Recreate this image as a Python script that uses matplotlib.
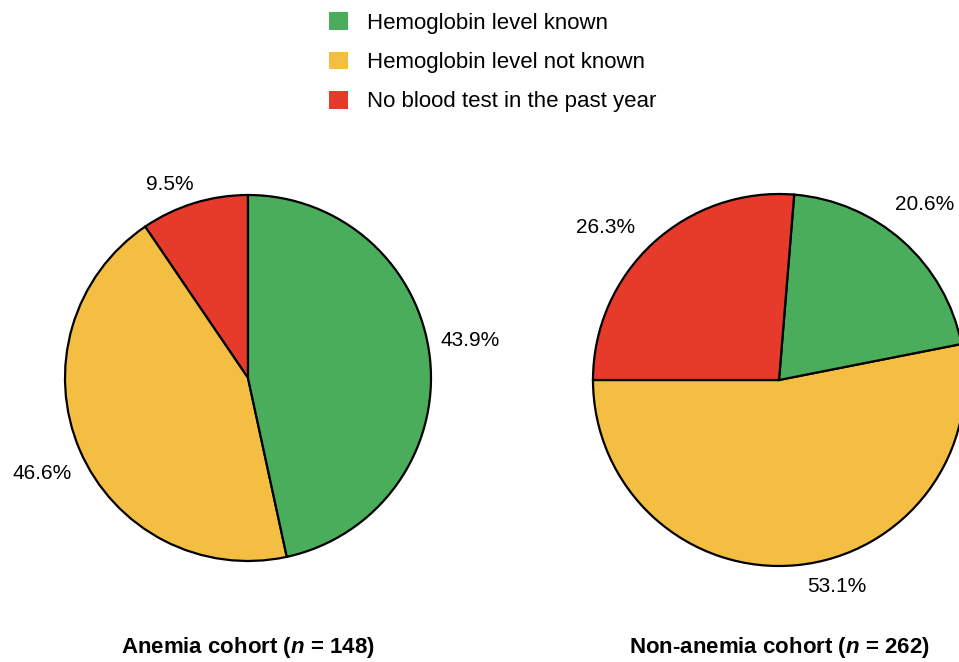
"""Two pie charts: blood test status in anemia vs non-anemia cohorts."""
import matplotlib

matplotlib.use("Agg")
import matplotlib.pyplot as plt
import numpy as np
from matplotlib.patches import Patch

plt.rcParams["font.family"] = ["Liberation Sans", "DejaVu Sans"]
plt.rcParams["mathtext.fontset"] = "custom"
plt.rcParams["mathtext.bfit"] = "Liberation Sans:italic:bold"
plt.rcParams["mathtext.it"] = "Liberation Sans:italic"

CATEGORIES = [
    "Hemoglobin level known",
    "Hemoglobin level not known",
    "No blood test in the past year",
]
COLORS = ["#4aad5b", "#f4be42", "#e63a2a"]

# wedge sizes as drawn, and the percentages printed next to them
ANEMIA_SHARE = [46.6, 43.9, 9.5]
ANEMIA_LABELS = ["43.9%", "46.6%", "9.5%"]
NON_ANEMIA_SHARE = [20.6, 53.1, 26.3]
NON_ANEMIA_LABELS = ["20.6%", "53.1%", "26.3%"]

ANEMIA_TITLE = r"Anemia cohort ($\mathbfit{n}$ = 148)"
NON_ANEMIA_TITLE = r"Non-anemia cohort ($\mathbfit{n}$ = 262)"

# label placement: (radius, angle nudge in degrees) per category
ANEMIA_LABEL_POS = [(1.23, 3.5), (1.24, 1.8), (1.14, 5.0)]
NON_ANEMIA_LABEL_POS = [(1.225, 2.0), (1.15, 10.0), (1.24, 6.0)]

W, H = 959, 662


def draw_pie(rect, shares, labels, label_pos, order, startangle, title):
    ax = fig.add_axes(rect)
    vals = [shares[i] for i in order]
    cols = [COLORS[i] for i in order]
    wedges, _ = ax.pie(
        vals,
        colors=cols,
        startangle=startangle,
        counterclock=True,
        wedgeprops=dict(edgecolor="black", linewidth=1.6),
    )
    for w, i in zip(wedges, order):
        r, nudge = label_pos[i]
        mid = np.deg2rad((w.theta1 + w.theta2) / 2 + nudge)
        ax.text(r * np.cos(mid), r * np.sin(mid), labels[i],
                ha="center", va="center", fontsize=15)
    ax.set_xlim(-1, 1)
    ax.set_ylim(-1, 1)
    ax.set_aspect("equal")
    ax.axis("off")
    return ax


fig = plt.figure(figsize=(W / 100, H / 100), dpi=100)

r1, cx1, cy1 = 183, 248, 378
draw_pie([(cx1 - r1) / W, (H - cy1 - r1) / H, 2 * r1 / W, 2 * r1 / H],
         ANEMIA_SHARE, ANEMIA_LABELS, ANEMIA_LABEL_POS, [2, 1, 0], 90,
         ANEMIA_TITLE)
fig.text(cx1 / W, 1 - 648 / H, ANEMIA_TITLE, ha="center", va="center",
         fontsize=16, fontweight="bold")

r2, cx2, cy2 = 186, 779, 380
draw_pie([(cx2 - r2) / W, (H - cy2 - r2) / H, 2 * r2 / W, 2 * r2 / H],
         NON_ANEMIA_SHARE, NON_ANEMIA_LABELS, NON_ANEMIA_LABEL_POS, [1, 0, 2],
         180, NON_ANEMIA_TITLE)
fig.text(cx2 / W, 1 - 648 / H, NON_ANEMIA_TITLE, ha="center", va="center",
         fontsize=16, fontweight="bold")

handles = [Patch(facecolor=c, edgecolor="none") for c in COLORS]
fig.legend(handles, CATEGORIES, loc="upper left", bbox_to_anchor=(317 / W, 1.0),
           frameon=False, fontsize=16, handlelength=0.85, handleheight=0.85,
           handletextpad=0.85, labelspacing=0.8, borderaxespad=0.15)

fig.savefig("out.png", dpi=100)
